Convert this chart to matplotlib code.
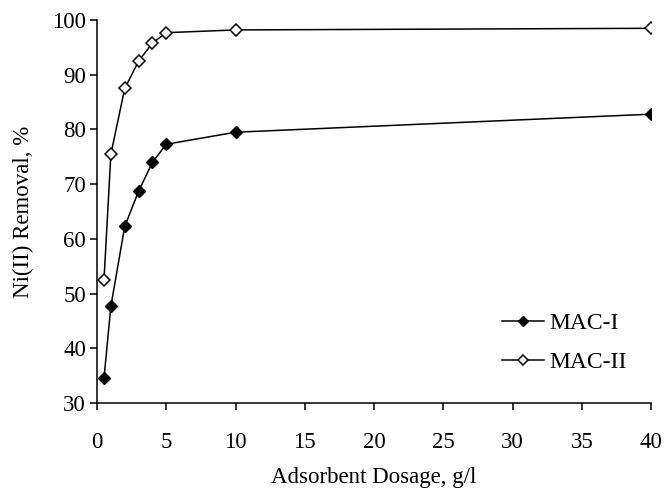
import matplotlib.pyplot as plt

plt.rcParams['font.family'] = ['Liberation Serif', 'DejaVu Serif']

# adsorbent dosage, g/l
dosage = [0.5, 1, 2, 3, 4, 5, 10, 40]
# Ni(II) removal, %
mac1 = [34.5, 47.7, 62.3, 68.7, 74.0, 77.3, 79.5, 82.8]
mac2 = [52.4, 75.5, 87.5, 92.5, 95.8, 97.7, 98.2, 98.5]

fig = plt.figure(figsize=(6.66, 4.9), dpi=100)
ax = fig.add_axes([0.1457, 0.1776, 0.8318, 0.7814])

ax.plot(dosage, mac1, color='black', lw=1.1, marker='D', ms=6.5,
        mfc='black', mec='black', label='MAC-I')
ax.plot(dosage, mac2, color='black', lw=1.1, marker='D', ms=6.5,
        mfc='white', mec='black', mew=1.1, label='MAC-II')

ax.set_xlim(0, 40)
ax.set_ylim(30, 100)
ax.set_xticks(range(0, 41, 5))
ax.set_yticks(range(30, 101, 10))
ax.spines['top'].set_visible(False)
ax.spines['right'].set_visible(False)
for s in ['left', 'bottom']:
    ax.spines[s].set_linewidth(1.1)
ax.tick_params(direction='out', length=5, width=1.1, labelsize=16.5)
ax.tick_params(axis='x', pad=16)
ax.tick_params(axis='y', pad=3)

ax.set_xlabel('Adsorbent Dosage, g/l', fontsize=16.5, labelpad=10)
ax.set_ylabel('Ni(II) Removal, %', fontsize=16.5, labelpad=13)

ax.legend(loc='lower right', bbox_to_anchor=(0.995, 0.022), frameon=False,
          fontsize=17, handlelength=1.75, handletextpad=0.25, labelspacing=0.75,
          markerscale=0.75)

fig.savefig('out.png', dpi=100)
